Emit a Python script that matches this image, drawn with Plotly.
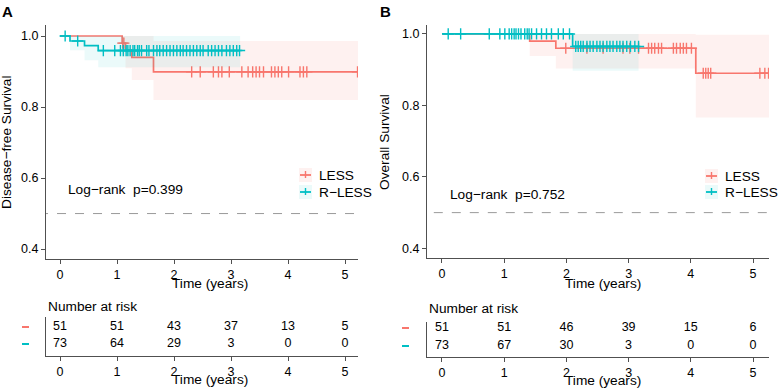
import numpy as np
import plotly.graph_objects as go

W, H = 779, 389
RED = "#F8766D"
CYAN = "#00BFC4"
RED_BAND = "rgba(248,118,109,0.10)"
CYAN_BAND = "rgba(0,191,196,0.08)"
AXIS = "#505050"
FONT = "Liberation Sans, Arial, sans-serif"

# ---------------- Data ----------------
groups = ["LESS", "R-LESS"]
risk_times = [0, 1, 2, 3, 4, 5]

# Panel A: Disease-free survival
dfs_less_time = [0, 1.09, 1.15, 1.26, 1.64]
dfs_less_end = 5.23
dfs_less_surv = [1.0, 0.980, 0.960, 0.940, 0.899]
dfs_less_lower = [1.0, 0.942, 0.909, 0.876, 0.820]
dfs_less_upper = [1.0, 1.0, 1.0, 1.0, 0.986]
dfs_less_censor = [1.10, 1.12, 2.31, 2.46, 2.69, 2.78, 2.84, 2.97, 3.19, 3.30, 3.38, 3.44,
                   3.50, 3.57, 3.71, 3.77, 3.83, 3.89, 4.01, 4.21, 4.27, 4.33, 5.22]

dfs_rless_time = [0, 0.175, 0.43, 0.67]
dfs_rless_end = 3.16
dfs_rless_surv = [1.0, 0.986, 0.973, 0.959]
dfs_rless_lower = [1.0, 0.960, 0.932, 0.912]
dfs_rless_upper = [1.0, 1.0, 1.0, 1.0]
dfs_rless_censor = [0.09, 0.31, 0.76, 0.96, 1.06, 1.11, 1.16, 1.19, 1.23, 1.28, 1.31, 1.36,
                    1.39, 1.43, 1.52, 1.56, 1.64, 1.70, 1.75, 1.81, 1.87, 1.93, 1.99, 2.05,
                    2.11, 2.16, 2.22, 2.28, 2.34, 2.40, 2.46, 2.51, 2.60, 2.66, 2.72, 2.78,
                    2.84, 2.92, 2.98, 3.04, 3.10, 3.15]

dfs_risk_less = [51, 51, 43, 37, 13, 5]
dfs_risk_rless = [73, 64, 29, 3, 0, 0]
dfs_pvalue = "0.399"

# Panel B: Overall survival
os_less_time = [0, 1.41, 1.83, 4.08]
os_less_end = 5.26
os_less_surv = [1.0, 0.980, 0.960, 0.890]
os_less_lower = [1.0, 0.938, 0.903, 0.766]
os_less_upper = [1.0, 1.0, 1.0, 0.998]
os_less_censor = [1.99, 2.33, 2.59, 2.91, 3.02, 3.16, 3.32, 3.37, 3.42, 3.48, 3.53, 3.72,
                  3.77, 3.83, 3.88, 3.93, 4.01, 4.20, 4.24, 4.28, 4.32, 5.11, 5.19, 5.25]

os_rless_time = [0, 2.10]
os_rless_end = 3.16
os_rless_surv = [1.0, 0.965]
os_rless_lower = [1.0, 0.897]
os_rless_upper = [1.0, 1.0]
os_rless_censor = [0.10, 0.30, 0.76, 0.93, 1.01, 1.08, 1.12, 1.16, 1.19, 1.23, 1.27, 1.33,
                   1.37, 1.40, 1.44, 1.52, 1.60, 1.68, 1.76, 1.87, 1.95, 2.05,
                   2.15, 2.19, 2.23, 2.27, 2.33, 2.38, 2.43, 2.49, 2.54, 2.59, 2.65, 2.70,
                   2.75, 2.81, 2.86, 2.91, 2.97, 3.03, 3.10, 3.16]

os_risk_less = [51, 51, 46, 39, 15, 6]
os_risk_rless = [73, 67, 30, 3, 0, 0]
os_pvalue = "0.752"

# ---------------- helpers ----------------
def px(x):
    return x / W

def py(y):
    return 1 - y / H

def step_at(times, surv, t):
    idx = np.searchsorted(np.array(times), t, side="right") - 1
    return float(np.array(surv)[idx])

fig = go.Figure()

def add_curve(xa, ya, times, end, surv, lower, upper, censor, color, band):
    xs = list(times) + [end]
    lo = list(lower) + [lower[-1]]
    up = list(upper) + [upper[-1]]
    sv = list(surv) + [surv[-1]]
    fig.add_trace(go.Scatter(x=xs, y=lo, mode="lines", line=dict(width=0, shape="hv"),
                             xaxis=xa, yaxis=ya, showlegend=False, hoverinfo="skip"))
    fig.add_trace(go.Scatter(x=xs, y=up, mode="lines", line=dict(width=0, shape="hv"),
                             fill="tonexty", fillcolor=band,
                             xaxis=xa, yaxis=ya, showlegend=False, hoverinfo="skip"))
    fig.add_trace(go.Scatter(x=xs, y=sv, mode="lines", line=dict(color=color, width=1.7, shape="hv"),
                             xaxis=xa, yaxis=ya, showlegend=False))
    cy = [step_at(times, surv, t) for t in censor]
    fig.add_trace(go.Scatter(x=censor, y=cy, mode="markers",
                             marker=dict(symbol="cross-thin", size=8, line=dict(color=color, width=1.4)),
                             xaxis=xa, yaxis=ya, showlegend=False))

# Panel A curves
add_curve("x", "y", dfs_less_time, dfs_less_end, dfs_less_surv, dfs_less_lower, dfs_less_upper,
          dfs_less_censor, RED, RED_BAND)
add_curve("x", "y", dfs_rless_time, dfs_rless_end, dfs_rless_surv, dfs_rless_lower, dfs_rless_upper,
          dfs_rless_censor, CYAN, CYAN_BAND)
# Panel B curves
add_curve("x3", "y3", os_less_time, os_less_end, os_less_surv, os_less_lower, os_less_upper,
          os_less_censor, RED, RED_BAND)
add_curve("x3", "y3", os_rless_time, os_rless_end, os_rless_surv, os_rless_lower, os_rless_upper,
          os_rless_censor, CYAN, CYAN_BAND)

# reference line at 0.5
for xa, ya in [("x", "y"), ("x3", "y3")]:
    fig.add_trace(go.Scatter(x=[-1, 6], y=[0.5, 0.5], mode="lines",
                             line=dict(color="#9a9a9a", width=1, dash="dash"),
                             xaxis=xa, yaxis=ya, showlegend=False, hoverinfo="skip"))

# risk tables
for xa, ya, r1, r2 in [("x2", "y2", dfs_risk_less, dfs_risk_rless),
                       ("x4", "y4", os_risk_less, os_risk_rless)]:
    fig.add_trace(go.Scatter(x=risk_times, y=[2] * len(risk_times), mode="text",
                             text=[str(v) for v in r1], textfont=dict(size=12.5, color="black", family=FONT),
                             xaxis=xa, yaxis=ya, showlegend=False))
    fig.add_trace(go.Scatter(x=risk_times, y=[1] * len(risk_times), mode="text",
                             text=[str(v) for v in r2], textfont=dict(size=12.5, color="black", family=FONT),
                             xaxis=xa, yaxis=ya, showlegend=False))

def xax(dom, rng, anchor):
    return dict(domain=[px(dom[0]), px(dom[1])], range=rng, anchor=anchor,
                showline=True, linecolor=AXIS, linewidth=1.3, ticks="outside", ticklen=4,
                tickcolor=AXIS, tickwidth=1, tickvals=risk_times, showgrid=False, zeroline=False,
                tickfont=dict(size=12.5, color="black", family=FONT))

def yax(dom, rng, anchor, labels=True):
    d = dict(domain=[py(dom[1]), py(dom[0])], range=rng, anchor=anchor,
             showline=True, linecolor=AXIS, linewidth=1.3, showgrid=False, zeroline=False,
             tickfont=dict(size=12.5, color="black", family=FONT))
    if labels:
        d.update(ticks="outside", ticklen=4, tickcolor=AXIS, tickwidth=1,
                 tickvals=[0.4, 0.6, 0.8, 1.0], ticktext=["0.4", "0.6", "0.8", "1.0"])
    else:
        d.update(ticks="", showticklabels=False)
    return d

fig.update_layout(
    width=W, height=H, margin=dict(l=0, r=0, t=0, b=0),
    paper_bgcolor="white", plot_bgcolor="rgba(0,0,0,0)",
    font=dict(family=FONT, color="black"),
    showlegend=False,
    xaxis=xax((46, 358), [-0.246, 5.228], "y"),
    yaxis=yax((25, 259), [0.372, 1.031], "x"),
    xaxis2=xax((46, 358), [-0.246, 5.228], "y2"),
    yaxis2=yax((317, 356), [0.294, 2.588], "x2", labels=False),
    xaxis3=xax((427, 769), [-0.241, 5.257], "y3"),
    yaxis3=yax((25, 258), [0.373, 1.025], "x3"),
    xaxis4=xax((427, 769), [-0.241, 5.257], "y4"),
    yaxis4=yax((322, 357), [0.389, 2.333], "x4", labels=False),
)

ann = []
shapes = []

def text(x, y, s, size=13.7, xanchor="center", angle=0, bold=False):
    ann.append(dict(x=px(x), y=py(y), xref="paper", yref="paper", text=("<b>%s</b>" % s) if bold else s,
                    showarrow=False, xanchor=xanchor, yanchor="middle", textangle=angle,
                    font=dict(size=size, color="black", family=FONT)))

# panel letters
text(8, 12, "A", size=15, bold=True)
text(385, 12, "B", size=15, bold=True)
# y titles
text(6, 142, "Disease\u2212free Survival", angle=-90)
text(384, 142, "Overall Survival", angle=-90)
# x titles
text(210, 283, "Time (years)")
text(210, 379, "Time (years)")
text(603, 283, "Time (years)")
text(603, 380, "Time (years)")
# number at risk
text(46, 306, "Number at risk", xanchor="left")
text(427, 308, "Number at risk", xanchor="left")
# log-rank
text(66, 190, "Log\u2212rank\u00a0\u00a0p=" + dfs_pvalue, xanchor="left")
text(448, 195, "Log\u2212rank\u00a0\u00a0p=" + os_pvalue, xanchor="left")

# legends
def legend(x0, ys):
    for (y, g, c, b) in zip(ys, groups, [RED, CYAN], [RED_BAND, CYAN_BAND]):
        shapes.append(dict(type="rect", xref="paper", yref="paper", x0=px(x0 - 1), x1=px(x0 + 12),
                           y0=py(y + 7), y1=py(y - 7), fillcolor=b, line=dict(width=0)))
        shapes.append(dict(type="line", xref="paper", yref="paper", x0=px(x0), x1=px(x0 + 11),
                           y0=py(y), y1=py(y), line=dict(color=c, width=1.8)))
        shapes.append(dict(type="line", xref="paper", yref="paper", x0=px(x0 + 5.5), x1=px(x0 + 5.5),
                           y0=py(y - 4), y1=py(y + 3), line=dict(color=c, width=1.4)))
        text(x0 + 17, y, g.replace("-", "\u2212"), xanchor="left")

legend(300, [175, 192])
legend(706, [176, 192])

# risk table strata dashes
for x0, ys in [(22, [327, 344]), (402, [328, 346])]:
    for y, c in zip(ys, [RED, CYAN]):
        shapes.append(dict(type="line", xref="paper", yref="paper", x0=px(x0), x1=px(x0 + 7),
                           y0=py(y), y1=py(y), line=dict(color=c, width=2)))

fig.update_layout(annotations=ann, shapes=shapes)
fig.write_html("out.html")
